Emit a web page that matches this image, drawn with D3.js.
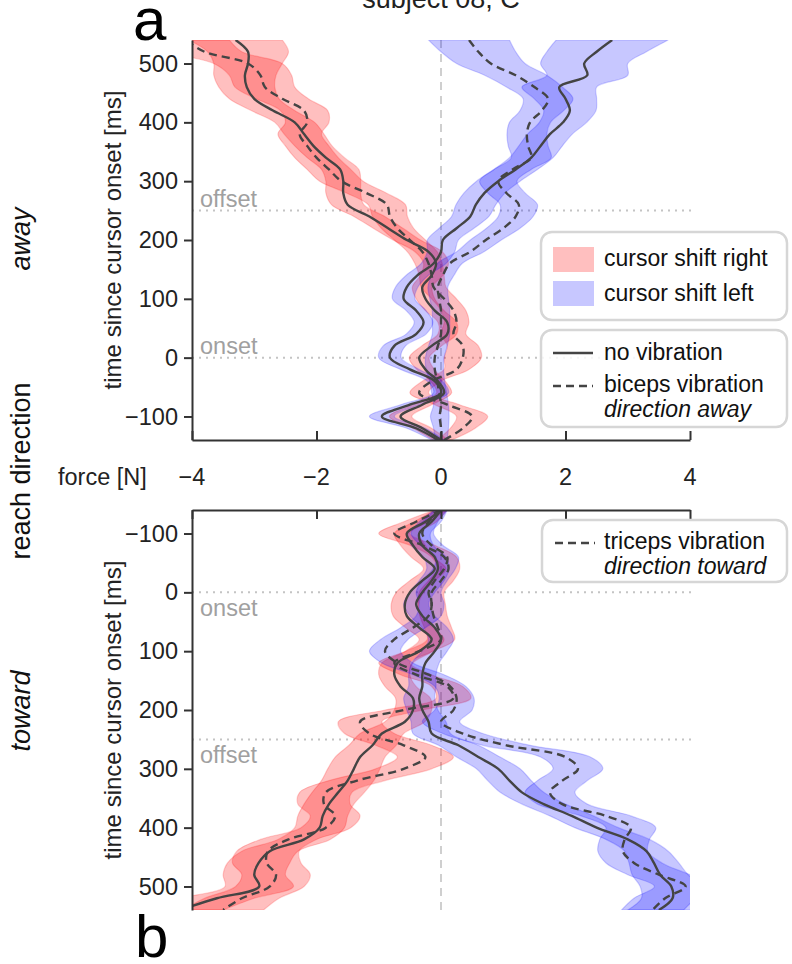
<!DOCTYPE html>
<html><head><meta charset="utf-8">
<script src="https://cdn.jsdelivr.net/npm/d3@7"></script>
<style>
body{margin:0;background:#fff}
svg{display:block}
text{font-family:"Liberation Sans",Arial,sans-serif}
</style>
</head><body>
<svg id="c" width="792" height="964"></svg>
<script>
// ---------- data ----------
const times = [-140,-120,-100,-80,-60,-40,-20,0,20,40,60,80,100,120,140,160,180,200,220,240,260,280,300,320,340,360,380,400,420,440,460,480,500,520,540];
const forceTicks = [-4,-2,0,2,4];
const timeTicks = [-100,0,100,200,300,400,500];
const markerTimes = [0,250];
const markerLabels = ["onset","offset"];

// panel a: reach direction away (biceps vibration)
const awayRightNoVib = [0.0,-0.3,-0.65,-0.3,0.05,-0.05,-0.25,-0.35,-0.15,0.1,0.1,-0.1,-0.25,-0.3,-0.15,-0.08,-0.2,-0.55,-0.85,-1.15,-1.5,-1.57,-1.57,-1.62,-1.85,-2.05,-2.2,-2.35,-2.7,-3.0,-3.12,-3.15,-3.1,-3.1,-3.3];
const awayRightVib   = [0.05,0.35,0.5,0.1,-0.35,-0.15,0.25,0.35,0.35,0.2,0.25,0.2,0.05,-0.12,-0.15,-0.2,-0.3,-0.5,-0.7,-0.82,-0.87,-1.2,-1.6,-1.8,-2.0,-2.15,-2.27,-2.15,-2.2,-2.55,-2.83,-2.9,-3.1,-3.8,-4.1];
const awayLeftNoVib  = [-0.05,-0.4,-0.95,-0.5,0.0,-0.1,-0.5,-0.82,-0.75,-0.4,-0.28,-0.4,-0.6,-0.55,-0.38,-0.12,0.0,0.03,0.25,0.47,0.56,0.7,0.92,1.2,1.45,1.6,1.75,1.96,2.07,2.0,1.9,2.35,2.3,2.5,2.75];
const awayLeftVib    = [0.0,0.0,-0.02,0.0,-0.03,-0.06,-0.1,-0.1,-0.05,0.0,0.0,0.0,-0.03,-0.05,0.03,0.14,0.47,0.72,1.0,1.2,1.25,1.05,0.92,1.15,1.45,1.4,1.38,1.43,1.62,1.72,1.5,1.2,0.8,0.6,0.45];
const awayRightNoVibSem = [0.12,0.15,0.18,0.15,0.12,0.12,0.14,0.16,0.16,0.15,0.15,0.15,0.15,0.16,0.18,0.2,0.22,0.22,0.24,0.25,0.26,0.28,0.28,0.3,0.3,0.3,0.32,0.32,0.35,0.4,0.45,0.5,0.55,0.65,0.75];
const awayRightVibSem   = [0.12,0.2,0.25,0.2,0.15,0.15,0.2,0.3,0.25,0.2,0.2,0.2,0.2,0.2,0.2,0.22,0.24,0.25,0.26,0.28,0.3,0.32,0.35,0.35,0.35,0.35,0.35,0.35,0.38,0.42,0.48,0.5,0.55,0.6,0.7];
const awayLeftNoVibSem  = [0.1,0.15,0.2,0.15,0.12,0.12,0.15,0.18,0.18,0.16,0.15,0.16,0.18,0.18,0.18,0.2,0.22,0.25,0.28,0.3,0.32,0.33,0.35,0.35,0.35,0.35,0.36,0.38,0.42,0.5,0.6,0.65,0.7,0.8,0.9];
const awayLeftVibSem    = [0.1,0.12,0.15,0.12,0.12,0.12,0.14,0.15,0.15,0.14,0.14,0.14,0.15,0.16,0.18,0.2,0.22,0.25,0.27,0.28,0.3,0.3,0.3,0.3,0.32,0.32,0.32,0.33,0.35,0.4,0.45,0.5,0.55,0.6,0.65];

// panel b: reach direction toward (triceps vibration)
const towardRightNoVib = [0.0,-0.25,-0.55,-0.45,-0.3,-0.1,-0.3,-0.5,-0.58,-0.55,-0.35,-0.15,-0.35,-0.7,-0.75,-0.65,-0.45,-0.45,-0.58,-0.95,-1.1,-1.3,-1.4,-1.5,-1.65,-1.8,-1.9,-1.95,-2.2,-2.75,-2.93,-3.0,-2.92,-3.6,-4.2];
const towardRightVib   = [0.0,-0.4,-0.75,-0.3,0.05,0.12,0.0,-0.15,-0.15,-0.12,-0.05,0.0,-0.35,-0.75,-0.4,0.1,0.2,-0.6,-1.3,-1.15,-0.6,-0.25,-0.6,-1.35,-1.85,-1.88,-1.7,-1.85,-2.45,-2.78,-2.8,-2.65,-2.75,-3.2,-3.5];
const towardLeftNoVib   = [0.0,-0.15,-0.35,-0.3,-0.1,-0.05,-0.15,-0.3,-0.4,-0.3,-0.1,0.0,-0.1,-0.25,-0.3,-0.3,-0.35,-0.3,-0.2,-0.15,0.28,0.6,0.92,1.1,1.3,1.65,2.1,2.5,3.0,3.3,3.42,3.52,3.7,3.72,3.5];
const towardLeftVib     = [0.0,-0.2,-0.3,-0.15,0.1,0.05,-0.1,-0.2,-0.15,-0.2,-0.45,-0.75,-0.9,-0.7,-0.2,0.15,0.25,0.2,0.0,0.35,1.05,2.0,2.2,1.95,1.75,1.95,2.65,3.05,2.95,2.92,3.1,3.5,3.93,3.6,3.4];
const towardRightNoVibSem = [0.1,0.18,0.2,0.2,0.18,0.18,0.2,0.22,0.22,0.22,0.22,0.2,0.22,0.25,0.25,0.25,0.28,0.3,0.32,0.35,0.38,0.4,0.42,0.42,0.42,0.4,0.4,0.4,0.42,0.45,0.5,0.5,0.55,0.6,0.7];
const towardRightVibSem   = [0.1,0.2,0.25,0.2,0.2,0.18,0.2,0.2,0.22,0.22,0.22,0.22,0.22,0.25,0.25,0.25,0.28,0.3,0.35,0.4,0.45,0.45,0.45,0.45,0.42,0.42,0.4,0.4,0.45,0.5,0.55,0.55,0.55,0.6,0.65];
const towardLeftNoVibSem  = [0.1,0.15,0.18,0.18,0.18,0.18,0.2,0.2,0.2,0.2,0.2,0.2,0.2,0.22,0.22,0.22,0.25,0.25,0.28,0.3,0.32,0.35,0.35,0.35,0.35,0.35,0.35,0.35,0.35,0.35,0.4,0.45,0.5,0.5,0.5];
const towardLeftVibSem    = [0.1,0.15,0.18,0.18,0.18,0.18,0.2,0.2,0.2,0.2,0.2,0.22,0.25,0.25,0.25,0.25,0.28,0.3,0.3,0.32,0.38,0.4,0.4,0.4,0.4,0.4,0.4,0.4,0.4,0.4,0.45,0.5,0.5,0.5,0.5];

// ---------- drawing ----------
const svg = d3.select("#c");
const L = 192, R = 690;
const x = d3.scaleLinear().domain([-4,4]).range([L,R]);
const yTop = d3.scaleLinear().domain([-140,540]).range([440,40]);
const yBot = d3.scaleLinear().domain([-140,540]).range([510,910]);
const fmt = d => d < 0 ? "\u2212" + Math.abs(d) : String(d);
const FILL = {red:"rgba(255,0,0,0.25)", blue:"rgba(0,0,255,0.22)"};
const EDGE = {red:"rgba(255,0,0,0.18)", blue:"rgba(0,0,255,0.18)"};
const LINE = "#444";
const TICKFS = 23.5, LEGFS = 23;

const defs = svg.append("defs");
defs.append("clipPath").attr("id","clipA").append("rect").attr("x",L).attr("y",40).attr("width",R-L).attr("height",400);
defs.append("clipPath").attr("id","clipB").append("rect").attr("x",L).attr("y",510).attr("width",R-L).attr("height",400);

const panels = [
  {y:yTop, clip:"clipA", top:40, bottom:440, labelDy:-4, series:[
    {f:awayRightNoVib, w:awayRightNoVibSem, c:"red", dash:false},
    {f:awayRightVib, w:awayRightVibSem, c:"red", dash:true},
    {f:awayLeftNoVib, w:awayLeftNoVibSem, c:"blue", dash:false},
    {f:awayLeftVib, w:awayLeftVibSem, c:"blue", dash:true}]},
  {y:yBot, clip:"clipB", top:510, bottom:910, labelDy:24, series:[
    {f:towardRightNoVib, w:towardRightNoVibSem, c:"red", dash:false},
    {f:towardRightVib, w:towardRightVibSem, c:"red", dash:true},
    {f:towardLeftNoVib, w:towardLeftNoVibSem, c:"blue", dash:false},
    {f:towardLeftVib, w:towardLeftVibSem, c:"blue", dash:true}]}
];

panels.forEach(p => {
  const g = svg.append("g");
  g.append("line").attr("x1",x(0)).attr("x2",x(0)).attr("y1",p.top).attr("y2",p.bottom)
    .attr("stroke","#cfcfcf").attr("stroke-width",2).attr("stroke-dasharray","8,6");
  markerTimes.forEach((t,i) => {
    g.append("line").attr("x1",L).attr("x2",R+4).attr("y1",p.y(t)).attr("y2",p.y(t))
      .attr("stroke","#c4c4c4").attr("stroke-width",2).attr("stroke-dasharray","2,5");
    g.append("text").attr("x",200).attr("y",p.y(t)+p.labelDy).attr("font-size",23.5)
      .attr("fill","#a0a0a0").text(markerLabels[i]);
  });
  const dg = svg.append("g").attr("clip-path",`url(#${p.clip})`);
  const area = d3.area().curve(d3.curveCatmullRom)
    .y(d => p.y(d.t)).x0(d => x(d.f - d.w)).x1(d => x(d.f + d.w));
  const line = d3.line().curve(d3.curveCatmullRom).y(d => p.y(d.t)).x(d => x(d.f));
  p.series.forEach(s => {
    const pts = times.map((t,i) => ({t, f:s.f[i], w:s.w[i]}));
    dg.append("path").attr("d",area(pts)).attr("fill",FILL[s.c])
      .attr("stroke",EDGE[s.c]).attr("stroke-width",1.2);
  });
  p.series.forEach(s => {
    const pts = times.map((t,i) => ({t, f:s.f[i]}));
    dg.append("path").attr("d",line(pts)).attr("fill","none").attr("stroke",LINE)
      .attr("stroke-width",2.4).attr("stroke-dasharray",s.dash?"8,5":null);
  });
  const ya = svg.append("g").attr("transform",`translate(${L},0)`)
    .call(d3.axisLeft(p.y).tickValues(timeTicks).tickFormat(fmt).tickSize(8).tickSizeOuter(0).tickPadding(6));
  ya.select(".domain").attr("stroke","#333").attr("stroke-width",2);
  ya.selectAll(".tick line").attr("stroke","#333").attr("stroke-width",2);
  ya.selectAll(".tick text").attr("font-size",TICKFS).attr("fill","#222")
    .style("font-family","'Liberation Sans',Arial,sans-serif");
});

// x axes (ticks pointing inward)
const xa1 = svg.append("g").attr("transform","translate(0,440)")
  .call(d3.axisBottom(x).tickValues(forceTicks).tickFormat("").tickSizeInner(-9).tickSizeOuter(0));
const xa2 = svg.append("g").attr("transform","translate(0,510)")
  .call(d3.axisTop(x).tickValues(forceTicks).tickFormat("").tickSizeInner(-9).tickSizeOuter(0));
[xa1,xa2].forEach(a => {
  a.select(".domain").attr("stroke","#333").attr("stroke-width",2);
  a.selectAll(".tick line").attr("stroke","#333").attr("stroke-width",2);
});
svg.append("g").selectAll("text").data(forceTicks).join("text")
  .attr("x",d => x(d)).attr("y",485).attr("text-anchor","middle").attr("font-size",TICKFS)
  .attr("fill","#222").text(fmt);
svg.append("text").attr("x",58).attr("y",485).attr("font-size",TICKFS).attr("fill","#222").text("force [N]");

// axis labels
[240,710].forEach(cy => {
  svg.append("text").attr("transform",`translate(121,${cy}) rotate(-90)`).attr("text-anchor","middle")
    .attr("font-size",24).attr("fill","#222").text("time since cursor onset [ms]");
});
svg.append("text").attr("transform","translate(30,471) rotate(-90)").attr("text-anchor","middle")
  .attr("font-size",27).attr("fill","#111").text("reach direction");
svg.append("text").attr("transform","translate(30,239) rotate(-90)").attr("text-anchor","middle")
  .attr("font-size",27).attr("font-style","italic").attr("fill","#111").text("away");
svg.append("text").attr("transform","translate(30,711) rotate(-90)").attr("text-anchor","middle")
  .attr("font-size",27).attr("font-style","italic").attr("fill","#111").text("toward");

// panel letters and title
svg.append("text").attr("x",133).attr("y",40).attr("font-size",60).attr("fill","#000").text("a");
svg.append("text").attr("x",135).attr("y",957).attr("font-size",60).attr("fill","#000").text("b");
svg.append("text").attr("x",441).attr("y",8).attr("text-anchor","middle").attr("font-size",27)
  .attr("fill","#222").text("subject 08, C");

// legends
function box(x0,y0,w,h){
  svg.append("rect").attr("x",x0).attr("y",y0).attr("width",w).attr("height",h).attr("rx",11)
    .attr("fill","rgba(255,255,255,0.85)").attr("stroke","#d6d6d6").attr("stroke-width",2.5);
}
box(541,232,246,88);
svg.append("rect").attr("x",553).attr("y",247).attr("width",41).attr("height",25).attr("fill",FILL.red);
svg.append("rect").attr("x",553).attr("y",281).attr("width",41).attr("height",25).attr("fill",FILL.blue);
svg.append("text").attr("x",604).attr("y",266).attr("font-size",LEGFS).attr("fill","#111").text("cursor shift right");
svg.append("text").attr("x",604).attr("y",301).attr("font-size",LEGFS).attr("fill","#111").text("cursor shift left");

box(541,330,246,97);
svg.append("line").attr("x1",553).attr("x2",593).attr("y1",353).attr("y2",353).attr("stroke",LINE).attr("stroke-width",2.6);
svg.append("line").attr("x1",553).attr("x2",593).attr("y1",386).attr("y2",386).attr("stroke",LINE).attr("stroke-width",2.6).attr("stroke-dasharray","8,5");
svg.append("text").attr("x",604).attr("y",360).attr("font-size",LEGFS).attr("fill","#111").text("no vibration");
svg.append("text").attr("x",604).attr("y",392).attr("font-size",LEGFS).attr("fill","#111").text("biceps vibration");
svg.append("text").attr("x",604).attr("y",417).attr("font-size",LEGFS).attr("font-style","italic").attr("fill","#111").text("direction away");

box(542,520,245,62);
svg.append("line").attr("x1",555).attr("x2",595).attr("y1",543).attr("y2",543).attr("stroke",LINE).attr("stroke-width",2.6).attr("stroke-dasharray","8,5");
svg.append("text").attr("x",604).attr("y",549).attr("font-size",LEGFS).attr("fill","#111").text("triceps vibration");
svg.append("text").attr("x",604).attr("y",574).attr("font-size",LEGFS).attr("font-style","italic").attr("fill","#111").text("direction toward");
</script>
</body></html>
